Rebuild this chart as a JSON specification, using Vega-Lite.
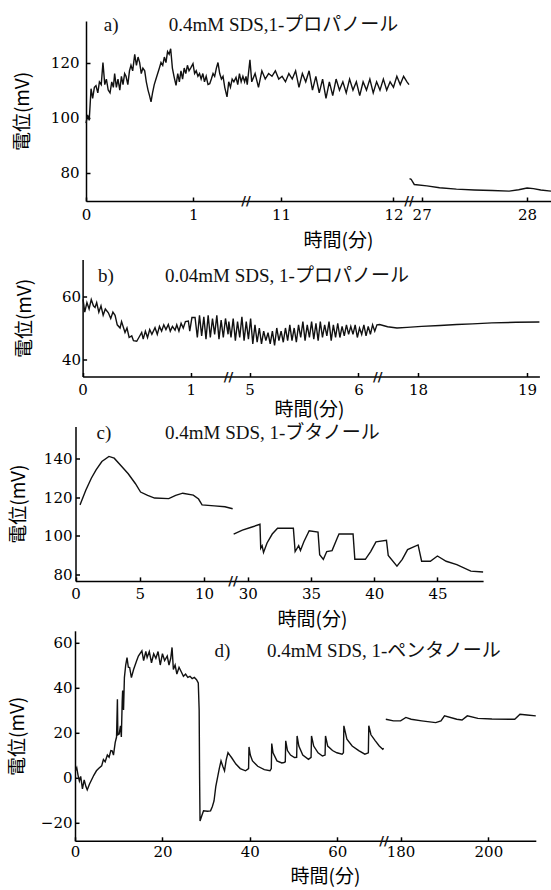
{
"$schema":"https://vega.github.io/schema/vega-lite/v6.json",
"padding":{"left":8,"top":16,"right":0,"bottom":0},
"background":"white",
"config":{"view":{"stroke":null},"axis":{"grid":false,"domainColor":"#000","domainWidth":1.5,"tickColor":"#000","tickWidth":1.5,"tickSize":-4,"labelFont":"DejaVu Serif","labelFontSize":15,"labelColor":"#000","titleFont":"Noto Sans CJK JP","titleFontSize":19,"titleFontWeight":"normal","titleColor":"#000","labelFlush":false,"labelOverlap":false}},
"columns":1,
"align":"none",
"spacing":3.5,
"concat":[
{"columns":1,"align":"none","spacing":8.5,"concat":[
{"width":465,"height":180,
"data":{"values":[
{"s":1,"t":0,"v":98},{"s":1,"t":0.015,"v":101},{"s":1,"t":0.03,"v":99},{"s":1,"t":0.047,"v":110.5},{"s":1,"t":0.062,"v":107},{"s":1,"t":0.078,"v":111},{"s":1,"t":0.093,"v":111.6},{"s":1,"t":0.11,"v":109},{"s":1,"t":0.125,"v":113},{"s":1,"t":0.142,"v":112},{"s":1,"t":0.158,"v":120},{"s":1,"t":0.175,"v":112},{"s":1,"t":0.19,"v":114},{"s":1,"t":0.207,"v":110},{"s":1,"t":0.224,"v":109},{"s":1,"t":0.24,"v":113},{"s":1,"t":0.255,"v":111},{"s":1,"t":0.267,"v":116},{"s":1,"t":0.283,"v":111},{"s":1,"t":0.298,"v":114},{"s":1,"t":0.315,"v":110},{"s":1,"t":0.33,"v":115},{"s":1,"t":0.345,"v":112},{"s":1,"t":0.36,"v":116},{"s":1,"t":0.373,"v":115},{"s":1,"t":0.39,"v":112},{"s":1,"t":0.405,"v":117},{"s":1,"t":0.419,"v":119},{"s":1,"t":0.435,"v":117},{"s":1,"t":0.454,"v":123},{"s":1,"t":0.47,"v":119},{"s":1,"t":0.485,"v":122},{"s":1,"t":0.5,"v":120},{"s":1,"t":0.515,"v":116},{"s":1,"t":0.53,"v":118},{"s":1,"t":0.547,"v":117},{"s":1,"t":0.562,"v":113},{"s":1,"t":0.578,"v":110},{"s":1,"t":0.592,"v":108},{"s":1,"t":0.606,"v":105.7},{"s":1,"t":0.62,"v":109},{"s":1,"t":0.636,"v":112},{"s":1,"t":0.652,"v":114},{"s":1,"t":0.668,"v":116},{"s":1,"t":0.684,"v":118},{"s":1,"t":0.699,"v":120},{"s":1,"t":0.715,"v":119},{"s":1,"t":0.73,"v":122},{"s":1,"t":0.745,"v":120},{"s":1,"t":0.76,"v":124},{"s":1,"t":0.775,"v":123},{"s":1,"t":0.789,"v":125},{"s":1,"t":0.805,"v":118},{"s":1,"t":0.82,"v":115},{"s":1,"t":0.839,"v":111.7},{"s":1,"t":0.855,"v":116},{"s":1,"t":0.87,"v":113},{"s":1,"t":0.885,"v":117},{"s":1,"t":0.9,"v":114},{"s":1,"t":0.915,"v":118},{"s":1,"t":0.93,"v":116},{"s":1,"t":0.945,"v":119},{"s":1,"t":0.96,"v":117},{"s":1,"t":0.975,"v":118},{"s":1,"t":0.997,"v":119.6},{"s":1,"t":1.012,"v":116},{"s":1,"t":1.027,"v":117},{"s":1,"t":1.043,"v":115},{"s":1,"t":1.058,"v":116},{"s":1,"t":1.073,"v":114},{"s":1,"t":1.089,"v":116},{"s":1,"t":1.104,"v":113},{"s":1,"t":1.12,"v":115},{"s":1,"t":1.137,"v":112},{"s":1,"t":1.153,"v":112.3},{"s":1,"t":1.168,"v":114},{"s":1,"t":1.184,"v":116},{"s":1,"t":1.199,"v":115},{"s":1,"t":1.215,"v":118},{"s":1,"t":1.23,"v":120},{"s":1,"t":1.246,"v":116},{"s":1,"t":1.262,"v":114},{"s":1,"t":1.277,"v":115},{"s":1,"t":1.293,"v":111},{"s":1,"t":1.314,"v":107.5},{"s":1,"t":1.33,"v":113},{"s":1,"t":1.346,"v":111},{"s":1,"t":1.362,"v":114},{"s":1,"t":1.378,"v":113},{"s":1,"t":1.398,"v":114.6},{"s":1,"t":1.414,"v":112},{"s":1,"t":1.43,"v":116},{"s":1,"t":1.446,"v":113},{"s":1,"t":1.462,"v":115},{"s":1,"t":1.478,"v":113},{"s":1,"t":1.491,"v":115},
{"s":1,"t":10.7,"v":112},{"s":1,"t":10.724,"v":121},{"s":1,"t":10.74,"v":113},{"s":1,"t":10.77,"v":116},{"s":1,"t":10.8,"v":111},{"s":1,"t":10.83,"v":117},{"s":1,"t":10.86,"v":114},{"s":1,"t":10.89,"v":116},{"s":1,"t":10.92,"v":115},{"s":1,"t":10.95,"v":117},{"s":1,"t":10.98,"v":114},{"s":1,"t":11.01,"v":115},{"s":1,"t":11.04,"v":113},{"s":1,"t":11.07,"v":116},{"s":1,"t":11.1,"v":114},{"s":1,"t":11.13,"v":117},{"s":1,"t":11.16,"v":111},{"s":1,"t":11.19,"v":116},{"s":1,"t":11.22,"v":113},{"s":1,"t":11.25,"v":117},{"s":1,"t":11.28,"v":110},{"s":1,"t":11.31,"v":115},{"s":1,"t":11.34,"v":109},{"s":1,"t":11.37,"v":114},{"s":1,"t":11.4,"v":107},{"s":1,"t":11.43,"v":113},{"s":1,"t":11.46,"v":108},{"s":1,"t":11.49,"v":114},{"s":1,"t":11.52,"v":110},{"s":1,"t":11.55,"v":113},{"s":1,"t":11.58,"v":109},{"s":1,"t":11.61,"v":114},{"s":1,"t":11.64,"v":110},{"s":1,"t":11.67,"v":113},{"s":1,"t":11.7,"v":108},{"s":1,"t":11.73,"v":113},{"s":1,"t":11.76,"v":110},{"s":1,"t":11.79,"v":114},{"s":1,"t":11.82,"v":109},{"s":1,"t":11.85,"v":113},{"s":1,"t":11.88,"v":110},{"s":1,"t":11.91,"v":114},{"s":1,"t":11.94,"v":110},{"s":1,"t":11.97,"v":113},{"s":1,"t":12.0,"v":111},{"s":1,"t":12.03,"v":115},{"s":1,"t":12.06,"v":112},{"s":1,"t":12.09,"v":115},{"s":1,"t":12.12,"v":113},{"s":1,"t":12.138,"v":112},
{"s":2,"t":26.885,"v":77.8},{"s":2,"t":26.9,"v":77.6},{"s":2,"t":26.93,"v":75.7},{"s":2,"t":27.05,"v":75.2},{"s":2,"t":27.17,"v":74.5},{"s":2,"t":27.33,"v":74},{"s":2,"t":27.5,"v":73.7},{"s":2,"t":27.67,"v":73.5},{"s":2,"t":27.83,"v":73.3},{"s":2,"t":27.92,"v":73.8},{"s":2,"t":28.0,"v":74.4},{"s":2,"t":28.06,"v":74.2},{"s":2,"t":28.13,"v":73.7},{"s":2,"t":28.227,"v":73.3},
{"t":0.165,"v":133.6,"txt":"a)"},{"t":0.771,"v":133.6,"txt":"0.4mM SDS,1-プロパノール"},
{"k":"b","t":1.491,"v":69.7},{"k":"b","t":12.138,"v":69.7}
]},
"encoding":{
"x":{"field":"t","type":"quantitative","scale":{"domain":[0,1.491,10.689,12.138,26.88,28.227],"range":[0,160,160,323,323,465],"nice":false,"zero":false},"axis":{"values":[0,1,11,12,27,28],"format":"d","title":"時間(分)","titleX":252,"titleY":39.8,"titleBaseline":"middle","titleAlign":"center","labelPadding":10}},
"y":{"field":"v","type":"quantitative","scale":{"domain":[69.7,135.1],"nice":false,"zero":false},"axis":{"values":[80,100,120],"format":"d","title":"電位(mV)","titleX":-63.1,"titleBaseline":"middle","titleAlign":"center","labelPadding":11}}
},
"layer":[
{"transform":[{"filter":"isValid(datum.s)"}],"mark":{"type":"line","color":"#111","strokeWidth":1.4},"encoding":{"detail":{"field":"s","type":"nominal"}}},
{"transform":[{"filter":"isValid(datum.txt)"}],"mark":{"type":"text","align":"left","baseline":"middle","fontSize":19,"font":"Liberation Serif, Noto Sans CJK JP","color":"#111"},"encoding":{"text":{"field":"txt"}}},
{"transform":[{"filter":"datum.k == 'b'"}],"mark":{"type":"text","text":"//","align":"center","baseline":"middle","fontSize":13,"fontWeight":"bold","font":"DejaVu Sans","color":"#111"}}
]},
{"width":453.4,"height":117,
"data":{"values":[
{"s":1,"t":0.004,"v":59},{"s":1,"t":0.02,"v":55},{"s":1,"t":0.04,"v":58},{"s":1,"t":0.06,"v":56},{"s":1,"t":0.08,"v":59},{"s":1,"t":0.1,"v":57},{"s":1,"t":0.115,"v":56.5},{"s":1,"t":0.13,"v":58},{"s":1,"t":0.15,"v":55},{"s":1,"t":0.17,"v":57},{"s":1,"t":0.19,"v":54},{"s":1,"t":0.21,"v":56},{"s":1,"t":0.238,"v":54.8},{"s":1,"t":0.26,"v":53},{"s":1,"t":0.28,"v":55},{"s":1,"t":0.3,"v":54},{"s":1,"t":0.32,"v":51},{"s":1,"t":0.346,"v":50},{"s":1,"t":0.36,"v":52},{"s":1,"t":0.392,"v":48.6},{"s":1,"t":0.41,"v":50},{"s":1,"t":0.43,"v":47},{"s":1,"t":0.454,"v":47.5},{"s":1,"t":0.47,"v":46},{"s":1,"t":0.5,"v":45.8},{"s":1,"t":0.52,"v":47},{"s":1,"t":0.546,"v":48.6},{"s":1,"t":0.56,"v":46.5},{"s":1,"t":0.58,"v":49},{"s":1,"t":0.6,"v":47},{"s":1,"t":0.62,"v":49.5},{"s":1,"t":0.64,"v":48},{"s":1,"t":0.669,"v":50.1},{"s":1,"t":0.69,"v":48},{"s":1,"t":0.71,"v":50.5},{"s":1,"t":0.73,"v":49},{"s":1,"t":0.75,"v":51},{"s":1,"t":0.77,"v":49.5},{"s":1,"t":0.792,"v":51.1},{"s":1,"t":0.81,"v":49},{"s":1,"t":0.83,"v":50.5},{"s":1,"t":0.854,"v":49.3},{"s":1,"t":0.87,"v":51},{"s":1,"t":0.89,"v":49},{"s":1,"t":0.91,"v":51.5},{"s":1,"t":0.93,"v":50},{"s":1,"t":0.95,"v":52},{"s":1,"t":0.977,"v":52.2},{"s":1,"t":0.99,"v":49},{"s":1,"t":1.01,"v":53.3},{"s":1,"t":1.039,"v":53.3},{"s":1,"t":1.06,"v":47},{"s":1,"t":1.08,"v":54},{"s":1,"t":1.1,"v":47.5},{"s":1,"t":1.12,"v":53.5},{"s":1,"t":1.14,"v":46.5},{"s":1,"t":1.16,"v":54},{"s":1,"t":1.18,"v":47},{"s":1,"t":1.2,"v":53},{"s":1,"t":1.22,"v":48},{"s":1,"t":1.24,"v":54},{"s":1,"t":1.26,"v":46.5},{"s":1,"t":1.28,"v":52.5},{"s":1,"t":1.3,"v":47},{"s":1,"t":1.32,"v":53},{"s":1,"t":1.344,"v":48},
{"s":1,"t":4.81,"v":52},{"s":1,"t":4.83,"v":47},{"s":1,"t":4.85,"v":53},{"s":1,"t":4.87,"v":46},{"s":1,"t":4.89,"v":52},{"s":1,"t":4.91,"v":47},{"s":1,"t":4.93,"v":53.5},{"s":1,"t":4.95,"v":46},{"s":1,"t":4.97,"v":52},{"s":1,"t":4.99,"v":46.5},{"s":1,"t":5.01,"v":53},{"s":1,"t":5.03,"v":45},{"s":1,"t":5.05,"v":51},{"s":1,"t":5.07,"v":45.5},{"s":1,"t":5.09,"v":50},{"s":1,"t":5.11,"v":45},{"s":1,"t":5.13,"v":49},{"s":1,"t":5.15,"v":46},{"s":1,"t":5.17,"v":48.5},{"s":1,"t":5.19,"v":45},{"s":1,"t":5.21,"v":49},{"s":1,"t":5.23,"v":44.5},{"s":1,"t":5.25,"v":50},{"s":1,"t":5.27,"v":46},{"s":1,"t":5.29,"v":49},{"s":1,"t":5.31,"v":45.5},{"s":1,"t":5.33,"v":50},{"s":1,"t":5.35,"v":46},{"s":1,"t":5.37,"v":51},{"s":1,"t":5.39,"v":46},{"s":1,"t":5.41,"v":50},{"s":1,"t":5.43,"v":45.5},{"s":1,"t":5.45,"v":51},{"s":1,"t":5.47,"v":47},{"s":1,"t":5.49,"v":52},{"s":1,"t":5.51,"v":46},{"s":1,"t":5.53,"v":51},{"s":1,"t":5.55,"v":47},{"s":1,"t":5.57,"v":52},{"s":1,"t":5.59,"v":46.5},{"s":1,"t":5.61,"v":51.5},{"s":1,"t":5.63,"v":46},{"s":1,"t":5.65,"v":52},{"s":1,"t":5.67,"v":47},{"s":1,"t":5.69,"v":51},{"s":1,"t":5.71,"v":47.5},{"s":1,"t":5.73,"v":52},{"s":1,"t":5.75,"v":46},{"s":1,"t":5.77,"v":51},{"s":1,"t":5.79,"v":47},{"s":1,"t":5.81,"v":51.5},{"s":1,"t":5.83,"v":47},{"s":1,"t":5.85,"v":50.5},{"s":1,"t":5.87,"v":47.5},{"s":1,"t":5.89,"v":51},{"s":1,"t":5.91,"v":48},{"s":1,"t":5.93,"v":50.5},{"s":1,"t":5.95,"v":48},{"s":1,"t":5.97,"v":51},{"s":1,"t":5.99,"v":47},{"s":1,"t":6.01,"v":50},{"s":1,"t":6.03,"v":48},{"s":1,"t":6.05,"v":51},{"s":1,"t":6.07,"v":47.5},{"s":1,"t":6.09,"v":50.5},{"s":1,"t":6.11,"v":48},{"s":1,"t":6.13,"v":51},{"s":1,"t":6.15,"v":49},{"s":1,"t":6.17,"v":51},
{"s":1,"t":17.646,"v":51.1},{"s":1,"t":17.72,"v":50.4},{"s":1,"t":17.806,"v":50.0},{"s":1,"t":17.9,"v":50.2},{"s":1,"t":18.032,"v":50.5},{"s":1,"t":18.2,"v":50.8},{"s":1,"t":18.355,"v":51.1},{"s":1,"t":18.5,"v":51.3},{"s":1,"t":18.678,"v":51.6},{"s":1,"t":18.9,"v":51.8},{"s":1,"t":19.114,"v":51.9},
{"t":0.142,"v":66.3,"txt":"b)"},{"t":0.762,"v":66.3,"txt":"0.04mM SDS, 1-プロパノール"},
{"k":"b","t":1.347,"v":34.7},{"k":"b","t":6.177,"v":34.7}
]},
"encoding":{
"x":{"field":"t","type":"quantitative","scale":{"domain":[0,1.347,4.806,6.177,17.629,19.114],"range":[-3.4,142.4,142.4,291.7,291.7,453.4],"nice":false,"zero":false},"axis":{"values":[0,1,5,6,18,19],"format":"d","title":"時間(分)","titleX":223,"titleY":33.3,"titleBaseline":"middle","titleAlign":"center","labelPadding":10}},
"y":{"field":"v","type":"quantitative","scale":{"domain":[34.7,71.6],"nice":false,"zero":false},"axis":{"values":[40,60],"format":"d","title":"電位(mV)","offset":3.4,"titleX":-58,"titleBaseline":"middle","titleAlign":"center","labelPadding":6}}
},
"layer":[
{"transform":[{"filter":"isValid(datum.s)"}],"mark":{"type":"line","color":"#111","strokeWidth":1.4},"encoding":{"detail":{"field":"s","type":"nominal"}}},
{"transform":[{"filter":"isValid(datum.txt)"}],"mark":{"type":"text","align":"left","baseline":"middle","fontSize":19,"font":"Liberation Serif, Noto Sans CJK JP","color":"#111"},"encoding":{"text":{"field":"txt"}}},
{"transform":[{"filter":"datum.k == 'b'"}],"mark":{"type":"text","text":"//","align":"center","baseline":"middle","fontSize":13,"fontWeight":"bold","font":"DejaVu Sans","color":"#111"}}
]}
]},
{"columns":1,"align":"none","spacing":1.3,"concat":[
{"width":397.1,"height":154.4,
"data":{"values":[
{"s":1,"t":0.35,"v":116},{"s":1,"t":0.41,"v":117},{"s":1,"t":0.8,"v":123.5},{"s":1,"t":1.23,"v":129.7},{"s":1,"t":1.6,"v":134},{"s":1,"t":2.05,"v":138.3},{"s":1,"t":2.6,"v":140.9},{"s":1,"t":3.01,"v":140},{"s":1,"t":3.56,"v":136},{"s":1,"t":4.1,"v":132},{"s":1,"t":4.65,"v":127},{"s":1,"t":5.06,"v":122.6},{"s":1,"t":5.61,"v":120.9},{"s":1,"t":6.15,"v":119.5},{"s":1,"t":7.25,"v":119.2},{"s":1,"t":7.79,"v":120.9},{"s":1,"t":8.34,"v":122},{"s":1,"t":9.16,"v":121},{"s":1,"t":9.57,"v":119},{"s":1,"t":9.84,"v":116},{"s":1,"t":10.8,"v":115.5},{"s":1,"t":11.62,"v":115},{"s":1,"t":12.22,"v":114},
{"s":2,"t":28.89,"v":101},{"s":2,"t":29.58,"v":103},{"s":2,"t":30.28,"v":104.5},{"s":2,"t":30.97,"v":106},{"s":2,"t":31.03,"v":93.7},{"s":2,"t":31.14,"v":95},{"s":2,"t":31.25,"v":91.5},{"s":2,"t":31.53,"v":96.4},{"s":2,"t":31.94,"v":101},{"s":2,"t":32.36,"v":104},{"s":2,"t":33.61,"v":104},{"s":2,"t":33.75,"v":92},{"s":2,"t":34.03,"v":95},{"s":2,"t":34.17,"v":92.5},{"s":2,"t":34.44,"v":97},{"s":2,"t":34.86,"v":102.7},{"s":2,"t":35.56,"v":102},{"s":2,"t":35.69,"v":90.4},{"s":2,"t":35.98,"v":88},{"s":2,"t":36.25,"v":92},{"s":2,"t":36.67,"v":92.5},{"s":2,"t":37.08,"v":99},{"s":2,"t":37.22,"v":101},{"s":2,"t":38.33,"v":101},{"s":2,"t":38.47,"v":88},{"s":2,"t":39.3,"v":88},{"s":2,"t":39.72,"v":92},{"s":2,"t":40.14,"v":97},{"s":2,"t":40.97,"v":97.8},{"s":2,"t":41.11,"v":90},{"s":2,"t":41.8,"v":84.5},{"s":2,"t":42.22,"v":88},{"s":2,"t":42.64,"v":93},{"s":2,"t":43.47,"v":95.4},{"s":2,"t":43.75,"v":87},{"s":2,"t":44.44,"v":87},{"s":2,"t":45.0,"v":89.7},{"s":2,"t":45.69,"v":87},{"s":2,"t":46.53,"v":85.3},{"s":2,"t":47.64,"v":81.9},{"s":2,"t":48.61,"v":81.5},
{"t":1.64,"v":152.9,"txt":"c)"},{"t":6.96,"v":152.9,"txt":"0.4mM SDS, 1-ブタノール"},
{"k":"b","t":12.247,"v":76.9}
]},
"encoding":{
"x":{"field":"t","type":"quantitative","scale":{"domain":[0,12.247,28.838,48.61],"range":[-10.5,147,147,397.1],"nice":false,"zero":false},"axis":{"values":[0,5,10,30,35,40,45],"format":"d","title":"時間(分)","titleX":226,"titleY":38.3,"titleBaseline":"middle","titleAlign":"center","labelPadding":10}},
"y":{"field":"v","type":"quantitative","scale":{"domain":[76.9,156.3],"nice":false,"zero":false},"axis":{"values":[80,100,120,140],"format":"d","title":"電位(mV)","offset":10.5,"titleX":-57,"titleBaseline":"middle","titleAlign":"center","labelPadding":7.5}}
},
"layer":[
{"transform":[{"filter":"isValid(datum.s)"}],"mark":{"type":"line","color":"#111","strokeWidth":1.4},"encoding":{"detail":{"field":"s","type":"nominal"}}},
{"transform":[{"filter":"isValid(datum.txt)"}],"mark":{"type":"text","align":"left","baseline":"middle","fontSize":19,"font":"Liberation Serif, Noto Sans CJK JP","color":"#111"},"encoding":{"text":{"field":"txt"}}},
{"transform":[{"filter":"datum.k == 'b'"}],"mark":{"type":"text","text":"//","align":"center","baseline":"middle","fontSize":13,"fontWeight":"bold","font":"DejaVu Sans","color":"#111"}}
]},
{"width":449.8,"height":210,
"data":{"values":[
{"s":1,"t":0.1,"v":3},{"s":1,"t":0.4,"v":4.4},{"s":1,"t":0.7,"v":1},{"s":1,"t":1.0,"v":-1.5},{"s":1,"t":1.3,"v":0.5},{"s":1,"t":1.7,"v":-5},{"s":1,"t":2.1,"v":-1},{"s":1,"t":2.5,"v":-4},{"s":1,"t":2.8,"v":-5.5},{"s":1,"t":3.3,"v":-3},{"s":1,"t":3.8,"v":-1},{"s":1,"t":4.3,"v":1},{"s":1,"t":4.9,"v":3},{"s":1,"t":5.4,"v":4},{"s":1,"t":6.1,"v":5.2},{"s":1,"t":6.5,"v":8},{"s":1,"t":6.9,"v":7},{"s":1,"t":7.4,"v":10},{"s":1,"t":7.8,"v":9},{"s":1,"t":8.2,"v":12},{"s":1,"t":8.5,"v":11.9},{"s":1,"t":8.8,"v":10},{"s":1,"t":9.2,"v":15.6},{"s":1,"t":9.5,"v":18},{"s":1,"t":9.7,"v":34.8},{"s":1,"t":9.8,"v":19},{"s":1,"t":10.1,"v":19.3},{"s":1,"t":10.4,"v":23},{"s":1,"t":10.6,"v":18},{"s":1,"t":10.8,"v":34},{"s":1,"t":10.9,"v":38.7},{"s":1,"t":11.1,"v":30},{"s":1,"t":11.3,"v":44.4},{"s":1,"t":11.6,"v":50},{"s":1,"t":11.9,"v":53.3},{"s":1,"t":12.2,"v":49},{"s":1,"t":12.5,"v":48.9},{"s":1,"t":12.9,"v":44.4},{"s":1,"t":13.4,"v":48},{"s":1,"t":14.1,"v":51.9},{"s":1,"t":14.5,"v":54},{"s":1,"t":15.3,"v":56.3},{"s":1,"t":15.7,"v":52},{"s":1,"t":16.2,"v":56},{"s":1,"t":16.5,"v":53.3},{"s":1,"t":17.0,"v":56},{"s":1,"t":17.5,"v":51},{"s":1,"t":18.0,"v":55},{"s":1,"t":18.5,"v":53},{"s":1,"t":19.0,"v":56},{"s":1,"t":19.5,"v":50},{"s":1,"t":20.0,"v":55},{"s":1,"t":20.5,"v":52},{"s":1,"t":21.1,"v":54},{"s":1,"t":21.5,"v":50},{"s":1,"t":21.9,"v":53},{"s":1,"t":22.2,"v":57.8},{"s":1,"t":22.5,"v":48},{"s":1,"t":22.9,"v":50},{"s":1,"t":23.3,"v":46},{"s":1,"t":23.8,"v":49},{"s":1,"t":24.3,"v":47},{"s":1,"t":24.8,"v":45},{"s":1,"t":25.3,"v":46},{"s":1,"t":25.8,"v":44.5},{"s":1,"t":26.3,"v":45},{"s":1,"t":26.8,"v":44},{"s":1,"t":27.3,"v":44.5},{"s":1,"t":27.8,"v":43.5},{"s":1,"t":28.2,"v":42},{"s":1,"t":28.4,"v":30},{"s":1,"t":28.5,"v":0},{"s":1,"t":28.6,"v":-19.3},{"s":1,"t":29.0,"v":-17},{"s":1,"t":29.4,"v":-14.8},{"s":1,"t":30.3,"v":-15},{"s":1,"t":31.0,"v":-14.8},{"s":1,"t":31.4,"v":-13},{"s":1,"t":31.8,"v":-10.4},{"s":1,"t":32.2,"v":-4},{"s":1,"t":32.6,"v":0},{"s":1,"t":33.0,"v":4},{"s":1,"t":33.4,"v":7.4},{"s":1,"t":33.8,"v":5},{"s":1,"t":34.2,"v":3},{"s":1,"t":34.6,"v":8},{"s":1,"t":35.0,"v":11.1},{"s":1,"t":35.4,"v":10},{"s":1,"t":35.8,"v":8.9},{"s":1,"t":36.8,"v":6},{"s":1,"t":37.8,"v":4},{"s":1,"t":39.0,"v":3},{"s":1,"t":39.7,"v":4},{"s":1,"t":39.8,"v":13.6},{"s":1,"t":40.1,"v":10},{"s":1,"t":40.6,"v":7.4},{"s":1,"t":41.8,"v":5},{"s":1,"t":43.3,"v":3.5},{"s":1,"t":44.6,"v":3},{"s":1,"t":44.9,"v":4},{"s":1,"t":45.0,"v":15.1},{"s":1,"t":45.3,"v":11},{"s":1,"t":46.2,"v":7.4},{"s":1,"t":47.3,"v":6.5},{"s":1,"t":47.8,"v":6.7},{"s":1,"t":48.1,"v":7},{"s":1,"t":48.2,"v":16.3},{"s":1,"t":48.6,"v":12},{"s":1,"t":49.3,"v":10},{"s":1,"t":50.2,"v":8.9},{"s":1,"t":50.7,"v":9},{"s":1,"t":50.8,"v":18.5},{"s":1,"t":51.2,"v":14},{"s":1,"t":52.1,"v":10},{"s":1,"t":53.4,"v":8.1},{"s":1,"t":54.0,"v":9},{"s":1,"t":54.1,"v":18.5},{"s":1,"t":54.6,"v":14},{"s":1,"t":55.6,"v":11},{"s":1,"t":56.6,"v":9.6},{"s":1,"t":57.2,"v":10},{"s":1,"t":57.3,"v":18.5},{"s":1,"t":57.8,"v":14},{"s":1,"t":58.9,"v":12},{"s":1,"t":59.9,"v":11},{"s":1,"t":61.1,"v":10.4},{"s":1,"t":61.4,"v":11},{"s":1,"t":61.5,"v":23},{"s":1,"t":62.2,"v":17},{"s":1,"t":63.4,"v":14},{"s":1,"t":64.9,"v":12},{"s":1,"t":66.3,"v":10.4},{"s":1,"t":67.1,"v":11},{"s":1,"t":67.2,"v":23},{"s":1,"t":67.7,"v":19},{"s":1,"t":68.7,"v":16.3},{"s":1,"t":69.6,"v":14},{"s":1,"t":70.4,"v":12.6},{"s":1,"t":70.6,"v":13},
{"s":2,"t":176.63,"v":25.9},{"s":2,"t":178.38,"v":25.2},{"s":2,"t":180,"v":25.2},{"s":2,"t":181.2,"v":26.7},{"s":2,"t":182.4,"v":25.9},{"s":2,"t":184.8,"v":25.2},{"s":2,"t":188.0,"v":24.4},{"s":2,"t":189.2,"v":25.2},{"s":2,"t":190.0,"v":27.4},{"s":2,"t":192.8,"v":25.9},{"s":2,"t":194.0,"v":25.6},{"s":2,"t":195.2,"v":27.4},{"s":2,"t":197.6,"v":26.3},{"s":2,"t":200.8,"v":26},{"s":2,"t":206.0,"v":25.9},{"s":2,"t":207.2,"v":28.1},{"s":2,"t":208.8,"v":27.8},{"s":2,"t":210.8,"v":27.4},
{"t":31.9,"v":56.3,"txt":"d)"},{"t":43.9,"v":56.3,"txt":"0.4mM SDS, 1-ペンタノール"},
{"k":"b","t":70.68,"v":-28.1}
]},
"encoding":{
"x":{"field":"t","type":"quantitative","scale":{"domain":[0,70.68,176.22,210.8],"range":[-11,298,298,449.8],"nice":false,"zero":false},"axis":{"values":[0,20,40,60,180,200],"format":"d","title":"時間(分)","titleX":239,"titleY":36,"titleBaseline":"middle","titleAlign":"center","labelPadding":8}},
"y":{"field":"v","type":"quantitative","scale":{"domain":[-28.1,65.2],"nice":false,"zero":false},"axis":{"values":[-20,0,20,40,60],"format":"d","title":"電位(mV)","offset":11,"titleX":-57.4,"titleBaseline":"middle","titleAlign":"center","labelPadding":7}}
},
"layer":[
{"transform":[{"filter":"isValid(datum.s)"}],"mark":{"type":"line","color":"#111","strokeWidth":1.4},"encoding":{"detail":{"field":"s","type":"nominal"}}},
{"transform":[{"filter":"isValid(datum.txt)"}],"mark":{"type":"text","align":"left","baseline":"middle","fontSize":19,"font":"Liberation Serif, Noto Sans CJK JP","color":"#111"},"encoding":{"text":{"field":"txt"}}},
{"transform":[{"filter":"datum.k == 'b'"}],"mark":{"type":"text","text":"//","align":"center","baseline":"middle","fontSize":13,"fontWeight":"bold","font":"DejaVu Sans","color":"#111"}}
]}
]}
]
}
